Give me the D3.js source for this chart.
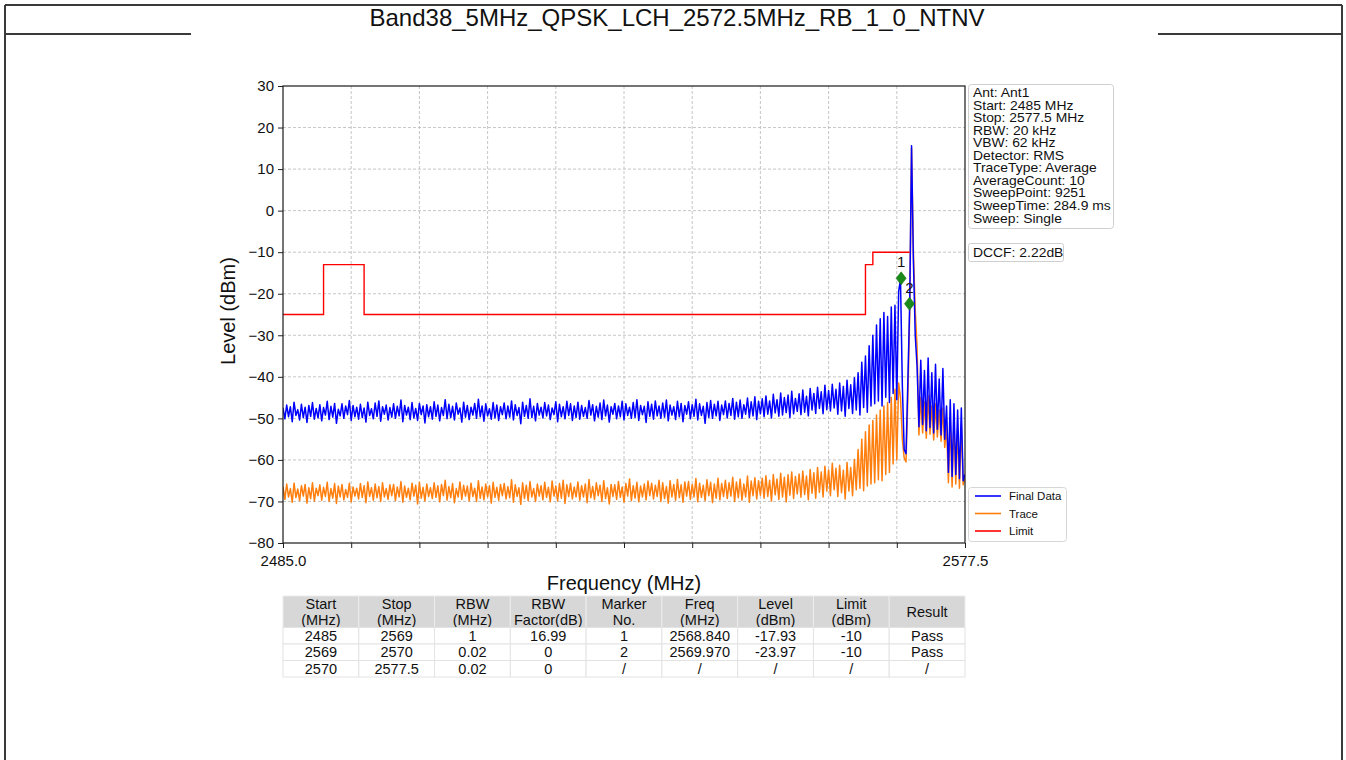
<!DOCTYPE html>
<html><head><meta charset="utf-8">
<script src="https://cdn.jsdelivr.net/npm/d3@7"></script>
<style>
body{margin:0;background:#fff;}
svg{display:block;font-family:"Liberation Sans",Arial,Helvetica,sans-serif;}
</style>
</head><body>
<svg id="c" width="1346" height="760"></svg>
<script>
// ---------------- DATA ----------------
const title = "Band38_5MHz_QPSK_LCH_2572.5MHz_RB_1_0_NTNV";
const freqStart = 2485, freqStop = 2577.5;   // sweep span (MHz), points evenly spaced

// Final Data (dBm), 0.25 MHz per point
const finalData = [
-47.5,-50.1,-46.8,-49.6,-47.2,-50.8,-46.1,-49.3,-47.9,-50.4,-46.6,-49.8,-47.3,-51.0,-46.9,-49.5,-46.2,-50.2,-47.6,-49.9,
-46.7,-50.6,-47.4,-49.2,-45.9,-50.3,-47.1,-49.7,-46.4,-51.2,-47.8,-49.4,-46.5,-50.0,-47.0,-49.1,-45.7,-50.5,-46.9,-49.6,
-47.3,-50.2,-46.6,-49.8,-47.5,-50.9,-46.1,-49.3,-47.7,-50.1,-46.3,-49.5,-45.8,-50.7,-47.2,-49.0,-46.8,-50.4,-47.4,-49.7,
-46.5,-50.0,-47.1,-49.4,-45.6,-50.8,-46.9,-49.2,-47.3,-50.3,-46.2,-49.9,-47.6,-50.5,-46.4,-49.1,-47.0,-51.1,-46.7,-49.6,
-47.2,-50.2,-46.0,-49.5,-46.8,-50.6,-47.4,-49.3,-45.5,-50.1,-46.6,-49.8,-47.1,-50.4,-46.3,-49.0,-47.5,-50.9,-46.1,-49.7,
-46.9,-50.3,-47.3,-49.2,-46.4,-50.0,-45.4,-49.6,-47.0,-50.7,-46.5,-49.4,-47.7,-50.2,-46.2,-49.9,-46.8,-50.5,-47.2,-49.1,
-46.3,-50.1,-47.0,-49.7,-45.8,-50.4,-46.7,-49.3,-47.4,-51.3,-46.1,-49.5,-46.9,-50.0,-45.3,-49.8,-47.1,-50.6,-46.4,-49.2,
-47.3,-49.9,-46.2,-49.4,-46.8,-50.3,-47.5,-49.1,-46.0,-50.8,-46.6,-49.6,-47.2,-50.1,-45.9,-49.3,-46.5,-50.5,-47.0,-49.8,
-46.1,-50.2,-46.9,-49.5,-47.4,-50.0,-45.7,-49.2,-46.7,-50.6,-47.1,-49.7,-46.3,-50.3,-45.6,-49.4,-46.8,-50.9,-47.2,-49.0,
-46.4,-50.1,-47.0,-49.6,-45.9,-50.4,-46.5,-49.3,-47.3,-50.0,-46.2,-49.8,-45.5,-50.5,-46.9,-49.1,-47.1,-51.0,-46.0,-49.5,
-46.6,-50.2,-45.8,-49.4,-47.0,-50.0,-46.3,-49.7,-45.6,-50.6,-46.8,-49.2,-47.2,-50.3,-45.9,-49.6,-46.4,-50.8,-46.9,-49.0,
-46.0,-50.1,-46.7,-49.5,-45.4,-50.4,-46.5,-49.3,-47.1,-51.2,-46.2,-49.8,-45.7,-50.0,-46.6,-49.4,-45.9,-50.5,-46.8,-49.1,
-45.8,-49.9,-46.4,-49.3,-45.2,-50.2,-46.1,-49.6,-45.6,-50.0,-46.7,-49.0,-45.1,-49.8,-46.0,-49.4,-44.8,-50.3,-45.9,-48.9,
-45.3,-49.6,-44.6,-49.0,-45.8,-49.9,-44.2,-48.7,-45.5,-49.5,-43.9,-49.2,-45.0,-48.6,-44.4,-49.8,-43.5,-48.9,-45.2,-48.3,
-44.1,-49.1,-43.2,-48.5,-44.7,-49.4,-42.8,-48.0,-44.0,-48.8,-42.5,-47.6,-43.6,-48.9,-42.0,-47.9,-43.3,-48.2,-41.8,-47.5,
-43.0,-49.0,-41.5,-48.2,-42.3,-49.5,-40.8,-47.6,-41.9,-48.8,-40.2,-48.0,-39.0,-49.2,-36.5,-47.4,-35.0,-48.5,-32.5,-47.0,
-30.0,-46.5,-27.5,-45.8,-26.0,-47.0,-24.5,-44.9,-25.5,-46.2,-23.2,-44.0,-22.8,-45.5,-19.5,-16.5,-42.0,-57.5,-58.5,-41.0,
-22.5,15.6,-12.0,-30.0,-37.5,-52.0,-36.0,-51.5,-38.5,-53.0,-35.5,-52.2,-39.0,-53.5,-37.0,-52.6,-40.5,-54.0,-38.0,-55.0,
-47.0,-63.0,-45.5,-64.0,-46.5,-63.5,-48.0,-64.5,-47.5,-65.0,-63.5
];

// Trace (dBm), same sweep points
const traceData = [
-66.4,-69.5,-65.8,-68.9,-66.9,-70.2,-65.6,-69.1,-67.0,-69.8,-66.2,-68.7,-65.9,-70.4,-66.7,-69.3,-65.5,-69.9,-66.8,-68.6,
-66.0,-69.7,-66.6,-68.8,-65.4,-70.0,-66.9,-69.2,-65.7,-70.5,-66.3,-68.9,-65.9,-69.6,-67.1,-69.0,-65.6,-70.1,-66.5,-68.7,
-66.8,-69.4,-65.7,-69.0,-66.2,-70.3,-65.3,-68.8,-66.7,-69.7,-65.8,-69.1,-66.4,-70.0,-65.5,-68.9,-66.9,-69.5,-66.0,-68.6,
-65.9,-69.8,-66.5,-68.9,-65.2,-70.2,-66.3,-69.0,-66.8,-69.6,-65.6,-68.7,-66.1,-70.6,-65.4,-69.2,-66.6,-69.9,-65.8,-68.8,
-66.7,-69.3,-65.5,-69.0,-66.2,-70.1,-65.9,-68.6,-64.9,-69.7,-66.4,-69.1,-65.7,-70.3,-66.9,-68.9,-65.3,-69.5,-66.1,-68.7,
-66.3,-69.9,-65.6,-68.8,-66.8,-70.0,-65.0,-69.2,-66.5,-69.6,-65.8,-68.9,-66.2,-70.4,-65.4,-69.0,-66.6,-69.7,-65.9,-68.6,
-65.7,-69.4,-66.4,-69.1,-64.8,-70.2,-66.0,-68.8,-66.7,-70.7,-65.5,-69.3,-66.1,-69.8,-65.2,-68.9,-66.9,-70.0,-65.8,-68.7,
-66.2,-69.6,-65.4,-69.0,-66.6,-70.1,-65.1,-68.7,-66.3,-69.9,-65.7,-69.2,-64.9,-70.5,-66.0,-68.8,-65.6,-69.4,-66.5,-68.9,
-65.3,-69.7,-66.2,-68.9,-65.8,-70.3,-64.7,-69.1,-66.4,-69.5,-65.5,-68.6,-66.1,-70.0,-65.0,-69.3,-66.7,-70.6,-65.9,-68.8,
-66.0,-69.5,-65.2,-69.0,-66.5,-70.2,-65.7,-68.7,-64.6,-69.8,-66.2,-69.2,-65.4,-70.1,-66.3,-68.9,-65.8,-69.6,-65.1,-68.6,
-65.6,-69.4,-66.1,-68.8,-64.9,-70.0,-65.5,-69.3,-66.4,-70.4,-65.0,-68.9,-65.9,-69.7,-64.7,-69.1,-66.0,-70.2,-65.3,-68.7,
-65.2,-69.5,-65.9,-68.9,-64.5,-70.1,-65.6,-69.0,-66.1,-69.8,-64.8,-68.6,-65.4,-70.3,-65.8,-69.2,-64.4,-69.6,-65.7,-68.8,
-64.9,-69.3,-65.5,-68.7,-64.2,-70.0,-65.3,-69.1,-64.6,-69.7,-65.8,-68.9,-63.9,-70.2,-65.1,-68.6,-64.3,-69.4,-65.0,-68.5,
-64.4,-69.2,-63.8,-68.8,-64.9,-69.9,-63.5,-68.4,-64.6,-69.5,-63.2,-68.9,-64.2,-70.1,-63.6,-68.5,-62.9,-69.3,-64.0,-68.2,
-63.4,-69.0,-62.7,-68.3,-63.9,-69.6,-62.3,-68.0,-63.1,-69.2,-61.8,-67.8,-62.9,-68.9,-61.5,-67.5,-62.4,-68.6,-60.8,-67.2,
-62.0,-68.8,-61.3,-67.9,-62.5,-69.4,-60.6,-67.5,-61.8,-68.6,-59.9,-67.2,-57.5,-66.8,-55.0,-67.4,-53.2,-66.3,-51.6,-65.8,
-50.5,-65.5,-49.2,-64.8,-48.0,-65.0,-47.0,-63.5,-46.2,-63.0,-45.0,-61.0,-43.0,-60.0,-41.5,-45.0,-55.0,-59.5,-60.5,-45.0,
-25.0,15.0,-10.0,-24.0,-33.0,-54.0,-45.0,-53.5,-46.0,-54.8,-44.5,-53.8,-47.0,-55.2,-46.5,-54.5,-48.0,-55.5,-47.5,-57.0,
-52.0,-65.5,-50.5,-66.5,-51.0,-65.8,-52.5,-66.8,-51.5,-66.0,-64.5
];

// Limit line segments
const limitStart = [2485, 2490.5, 2496, 2564, 2565];
const limitStop  = [2490.5, 2496, 2564, 2565, 2570];
const limitLevel = [-25, -13, -25, -13, -10];

// Markers (position as drawn)
const markerNo = ["1", "2"];
const markerFreq = [2568.84, 2569.97];
const markerLevel = [-16.3, -22.4];

// Axes
const yTicks = [30, 20, 10, 0, -10, -20, -30, -40, -50, -60, -70, -80];
const xTicks = [2485, 2494.25, 2503.5, 2512.75, 2522, 2531.25, 2540.5, 2549.75, 2559, 2568.25, 2577.5];
const xTickLabels = ["2485.0", "", "", "", "", "", "", "", "", "", "2577.5"];
const xLabel = "Frequency (MHz)";
const yLabel = "Level (dBm)";

// Info boxes and legend
const infoLines = ["Ant: Ant1", "Start: 2485 MHz", "Stop: 2577.5 MHz", "RBW: 20 kHz", "VBW: 62 kHz",
  "Detector: RMS", "TraceType: Average", "AverageCount: 10", "SweepPoint: 9251", "SweepTime: 284.9 ms", "Sweep: Single"];
const dccfText = "DCCF: 2.22dB";
const legendLabels = ["Final Data", "Trace", "Limit"];
const legendColors = ["#0000ff", "#ff7f0e", "#ff0000"];

// Result table
const tableHeader = [["Start","(MHz)"],["Stop","(MHz)"],["RBW","(MHz)"],["RBW","Factor(dB)"],["Marker","No."],
  ["Freq","(MHz)"],["Level","(dBm)"],["Limit","(dBm)"],["Result"]];
const tableRows = [
  ["2485","2569","1","16.99","1","2568.840","-17.93","-10","Pass"],
  ["2569","2570","0.02","0","2","2569.970","-23.97","-10","Pass"],
  ["2570","2577.5","0.02","0","/","/","/","/","/"]
];

// ---------------- DRAW ----------------
const svg = d3.select("#c");
const W = 1346, H = 760;
const L = 283, R = 965, T = 86, B = 543;

// page frame
svg.append("rect").attr("x",0).attr("y",0).attr("width",W).attr("height",H).attr("fill","#fff");
const frame = svg.append("g").attr("stroke","#3a3a3a").attr("stroke-width",2).attr("fill","none");
frame.append("line").attr("x1",5).attr("x2",1342).attr("y1",5).attr("y2",5);
frame.append("line").attr("x1",5).attr("x2",5).attr("y1",5).attr("y2",H);
frame.append("line").attr("x1",1342).attr("x2",1342).attr("y1",5).attr("y2",H);
frame.append("line").attr("x1",5).attr("x2",191).attr("y1",34).attr("y2",34);
frame.append("line").attr("x1",1158).attr("x2",1342).attr("y1",34).attr("y2",34);

svg.append("text").attr("x",677).attr("y",25.5).attr("text-anchor","middle")
  .attr("font-size",24).attr("fill","#111").text(title);

const x = d3.scaleLinear().domain([freqStart, freqStop]).range([L, R]);
const y = d3.scaleLinear().domain([-80, 30]).range([B, T]);

// grid
const grid = svg.append("g").attr("stroke","#b8b8b8").attr("stroke-width",0.8).attr("stroke-dasharray","3,2");
grid.selectAll(".gx").data(xTicks.slice(1,-1)).join("line")
  .attr("x1",d=>x(d)).attr("x2",d=>x(d)).attr("y1",T).attr("y2",B);
grid.selectAll(".gy").data(yTicks.slice(1,-1)).join("line")
  .attr("x1",L).attr("x2",R).attr("y1",d=>y(d)).attr("y2",d=>y(d));

// traces
const fAt = (i, n) => freqStart + i * (freqStop - freqStart) / (n - 1);
const clip = svg.append("clipPath").attr("id","pc").append("rect").attr("x",L).attr("y",T).attr("width",R-L).attr("height",B-T);
const plot = svg.append("g").attr("clip-path","url(#pc)");
const lineOf = arr => d3.line().x((d,i)=>x(fAt(i, arr.length))).y(d=>y(d))(arr);
plot.append("path").attr("d",lineOf(traceData)).attr("fill","none").attr("stroke",legendColors[1]).attr("stroke-width",1.5).attr("stroke-linejoin","round");
plot.append("path").attr("d",lineOf(finalData)).attr("fill","none").attr("stroke",legendColors[0]).attr("stroke-width",1.5).attr("stroke-linejoin","round");

// limit
const limPts = [];
limitStart.forEach((s,i)=>{ limPts.push([s, limitLevel[i]]); limPts.push([limitStop[i], limitLevel[i]]); });
plot.append("path").attr("d", d3.line().x(d=>x(d[0])).y(d=>y(d[1]))(limPts))
  .attr("fill","none").attr("stroke",legendColors[2]).attr("stroke-width",1.4);

// markers
markerFreq.forEach((f,i)=>{
  const cx = x(f), cy = y(markerLevel[i]);
  svg.append("path").attr("d",`M${cx},${cy-6.5}L${cx+5},${cy}L${cx},${cy+6.5}L${cx-5},${cy}Z`)
    .attr("fill","#1a8a1a").attr("stroke","#127012").attr("stroke-width",0.6);
  svg.append("text").attr("x",cx).attr("y",cy-11).attr("text-anchor","middle")
    .attr("font-size",15).attr("fill","#111").text(markerNo[i]);
});

// axes
const yAxis = d3.axisLeft(y).tickValues(yTicks).tickSize(5).tickPadding(4)
  .tickFormat(d => d < 0 ? "\u2212" + Math.abs(d) : String(d));
const gy = svg.append("g").attr("transform",`translate(${L},0)`).call(yAxis);
const xAxis = d3.axisBottom(x).tickValues(xTicks).tickSize(5).tickPadding(7)
  .tickFormat((d,i)=>xTickLabels[i]);
const gx = svg.append("g").attr("transform",`translate(0,${B})`).call(xAxis);
[gx, gy].forEach(g=>{
  g.select(".domain").remove();
  g.selectAll(".tick line").attr("stroke","#222").attr("stroke-width",1);
  g.selectAll(".tick text").attr("font-size",15).attr("fill","#111").attr("font-family","Liberation Sans, Arial, sans-serif");
});
// spines
svg.append("rect").attr("x",L).attr("y",T).attr("width",R-L).attr("height",B-T)
  .attr("fill","none").attr("stroke","#1a1a1a").attr("stroke-width",1.2);

// axis labels
svg.append("text").attr("x",624).attr("y",590).attr("text-anchor","middle").attr("font-size",20).attr("fill","#111").text(xLabel);
svg.append("text").attr("transform","translate(235,311) rotate(-90)").attr("text-anchor","middle").attr("font-size",20).attr("fill","#111").text(yLabel);

// info box
svg.append("rect").attr("x",968.5).attr("y",84.5).attr("width",145).attr("height",144).attr("rx",3)
  .attr("fill","#fff").attr("stroke","#cfcfcf").attr("stroke-width",1);
const info = svg.append("g").attr("transform","translate(973,0) scale(1.07,1)");
info.selectAll("text").data(infoLines).join("text")
  .attr("x",0).attr("y",(d,i)=>97 + i*12.56).attr("font-size",13).attr("fill","#111").text(d=>d);

svg.append("rect").attr("x",968.5).attr("y",243.5).attr("width",95).attr("height",18).attr("rx",2)
  .attr("fill","#fff").attr("stroke","#cfcfcf");
svg.append("g").attr("transform","translate(973,0) scale(1.07,1)")
  .append("text").attr("x",0).attr("y",257).attr("font-size",13).attr("fill","#111").text(dccfText);

// legend
svg.append("rect").attr("x",968.5).attr("y",487.5).attr("width",98).attr("height",54).attr("rx",3)
  .attr("fill","#fff").attr("stroke","#d6d6d6");
legendLabels.forEach((lab,i)=>{
  const yy = 496 + i*17.5;
  svg.append("line").attr("x1",975).attr("x2",1001).attr("y1",yy).attr("y2",yy)
    .attr("stroke",legendColors[i]).attr("stroke-width",1.6);
  svg.append("text").attr("x",1009).attr("y",yy+4).attr("font-size",11.5).attr("fill","#111").text(lab);
});

// table
const nCol = tableHeader.length;
const cw = (R - L) / nCol;
const hTop = 596, hH = 31.5, rH = 16.5;
const tbl = svg.append("g");
tableHeader.forEach((h,j)=>{
  tbl.append("rect").attr("x",L + j*cw).attr("y",hTop).attr("width",cw).attr("height",hH)
    .attr("fill","#d7d7d7").attr("stroke","#ececec").attr("stroke-width",1);
  if (h.length === 1) {
    tbl.append("text").attr("x",L + (j+0.5)*cw).attr("y",hTop + hH/2 + 5).attr("text-anchor","middle")
      .attr("font-size",14.5).attr("fill","#111").text(h[0]);
  } else {
    h.forEach((t,k)=>tbl.append("text").attr("x",L + (j+0.5)*cw).attr("y",hTop + 13 + k*15.5)
      .attr("text-anchor","middle").attr("font-size",14.5).attr("fill","#111").text(t));
  }
});
tableRows.forEach((row,r)=>{
  row.forEach((v,j)=>{
    const ty = hTop + hH + r*rH;
    tbl.append("rect").attr("x",L + j*cw).attr("y",ty).attr("width",cw).attr("height",rH)
      .attr("fill","#fff").attr("stroke","#e3e3e3").attr("stroke-width",1);
    tbl.append("text").attr("x",L + (j+0.5)*cw).attr("y",ty + rH/2 + 5).attr("text-anchor","middle")
      .attr("font-size",14.5).attr("fill","#111").text(v);
  });
});
</script>
</body></html>
